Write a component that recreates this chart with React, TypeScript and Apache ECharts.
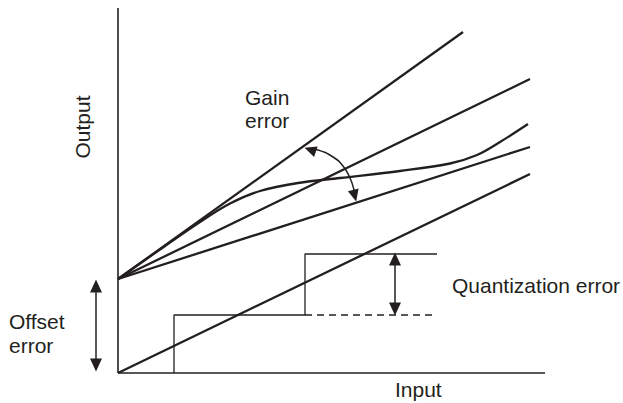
import React, { useEffect, useRef } from "react";
import * as echarts from "echarts";

// Diagram units: origin at the axes' corner, 1 unit ≈ 1 px of the reference.
const xExtent: [number, number] = [-118, 505];
const yExtent: [number, number] = [-30, 373];

const yAxisLine: [number, number][] = [[0, 0], [0, 365]];
const xAxisLine: [number, number][] = [[0, 0], [427, 0]];

const offsetPoint: [number, number] = [0, 94];
const gainHighLine: [number, number][] = [offsetPoint, [345, 341]];
const gainMidLine: [number, number][] = [offsetPoint, [412, 294]];
const gainLowLine: [number, number][] = [offsetPoint, [412, 226]];
const idealLine: [number, number][] = [[0, 0], [412, 199]];
const nonlinearCurve: [number, number][] = [
  [0, 94], [42, 123.5], [82, 151], [112, 169.5], [142, 182], [180, 190],
  [222, 195], [282, 202], [332, 209.5], [359, 218], [382, 231], [410, 249],
];
const staircase: [number, number][] = [
  [56, 0], [56, 58], [187, 58], [187, 119], [319, 119],
];
const quantDashed: [number, number][] = [[187, 58], [319, 58]];

// Arrow shafts
const offsetArrow: [number, number][] = [[-22, 90], [-22, 5]];
const quantArrow: [number, number][] = [[277, 116], [277, 62]];
const gainArrow: [number, number][] = [
  [190, 224.5], [200, 223], [215, 216], [225, 207], [232, 195], [236, 183], [237.5, 175],
];
// Arrowheads: [x, y, rotation in degrees]
const arrowHeads: [number, number, number][] = [
  [-22, 87, 0], [-22, 8, 180],
  [277, 114, 0], [277, 64, 180],
  [192.2, 223.2, 71], [236.7, 177.3, 194],
];

const labelTexts = ["Gain", "error", "Offset", "error", "Quantization error", "Input", "Output"];

const INK = "#231f20";

export default function App() {
  const ref = useRef<HTMLDivElement>(null);
  useEffect(() => {
    if (!ref.current) return;
    const chart = echarts.init(ref.current, null, { renderer: "svg" });
    const line = (data: [number, number][], width: number, smooth: number | boolean = false, type: any = "solid") => ({
      type: "line",
      data,
      showSymbol: false,
      smooth,
      silent: true,
      clip: false,
      lineStyle: { color: INK, width, type },
    });
    const textStyle = { fontFamily: "Liberation Sans, Arial, sans-serif", fontSize: 21, fill: INK };
    const hiddenAxis = (ext: [number, number]) => ({
      type: "value", min: ext[0], max: ext[1], show: false,
      axisLine: { show: false }, axisTick: { show: false }, axisLabel: { show: false }, splitLine: { show: false },
    });
    chart.setOption({
      animation: false,
      grid: { left: 0, top: 0, right: 0, bottom: 0 },
      xAxis: hiddenAxis(xExtent),
      yAxis: hiddenAxis(yExtent),
      series: [
        line(yAxisLine, 1.6),
        line(xAxisLine, 1.5),
        line(gainHighLine, 2.3),
        line(gainMidLine, 2.3),
        line(gainLowLine, 2.3),
        line(idealLine, 2.3),
        line(nonlinearCurve, 2.3, 0.35),
        line(staircase, 1.3),
        line(quantDashed, 1.3, false, [7, 5]),
        line(offsetArrow, 1.5),
        line(quantArrow, 1.5),
        line(gainArrow, 1.5, 0.5),
        {
          type: "scatter",
          clip: false,
          silent: true,
          symbol: "triangle",
          data: arrowHeads.map((a, i) => ({
            value: [a[0], a[1]],
            symbolRotate: a[2],
            symbolSize: i >= 4 ? [11, 12] : [12, 13],
          })),
          itemStyle: { color: INK, opacity: 1 },
        },
      ],
      graphic: [
        { type: "text", x: 245, y: 97, style: { ...textStyle, text: labelTexts[0], verticalAlign: "middle" } },
        { type: "text", x: 245, y: 120, style: { ...textStyle, text: labelTexts[1], verticalAlign: "middle" } },
        { type: "text", x: 9, y: 321, style: { ...textStyle, text: labelTexts[2], verticalAlign: "middle" } },
        { type: "text", x: 9, y: 345, style: { ...textStyle, text: labelTexts[3], verticalAlign: "middle" } },
        { type: "text", x: 452, y: 285, style: { ...textStyle, text: labelTexts[4], verticalAlign: "middle" } },
        { type: "text", x: 395, y: 389, style: { ...textStyle, text: labelTexts[5], verticalAlign: "middle" } },
        {
          type: "text", x: 82, y: 127, rotation: Math.PI / 2,
          style: { ...textStyle, text: labelTexts[6], align: "center", verticalAlign: "middle" },
        },
      ],
    });
    return () => chart.dispose();
  }, []);
  return (
    <div
      ref={ref}
      style={{ position: "fixed", left: 0, top: 0, width: 623, height: 403, background: "#fff" }}
    />
  );
}
